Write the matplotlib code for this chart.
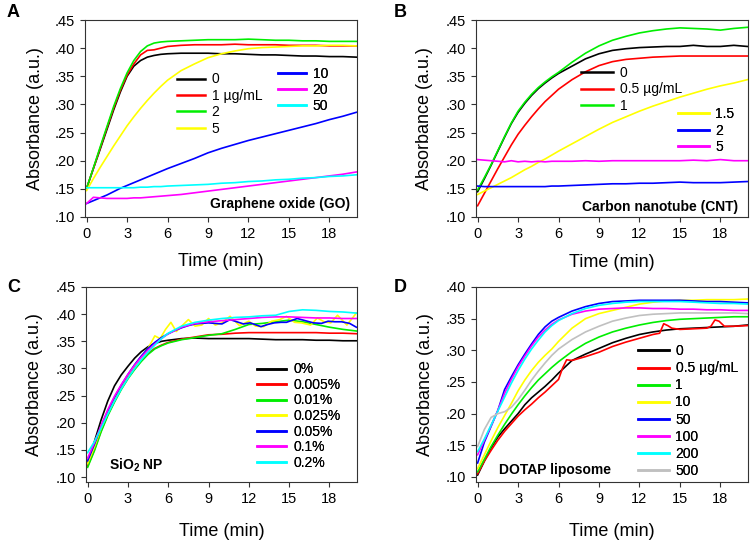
import numpy as np
import matplotlib
matplotlib.use("Agg")
import matplotlib.pyplot as plt
from matplotlib.ticker import FuncFormatter, MultipleLocator

plt.rcParams['font.family'] = ['Liberation Sans', 'DejaVu Sans']
plt.rcParams['mathtext.fontset'] = 'custom'
plt.rcParams['mathtext.rm'] = 'Liberation Sans'
plt.rcParams['mathtext.bf'] = 'Liberation Sans:bold'

# common time grid (min)
t = [0, 0.5, 1, 1.5, 2, 2.5, 3, 3.5, 4, 4.5, 5, 5.5, 6, 7, 8, 9, 10, 11, 12, 13, 14, 15, 16, 17, 18, 19, 20]

# ---- A: graphene oxide ----
go_labels = ["0", "1 \u00b5g/mL", "2", "5", "10", "20", "50"]
go_0 = [.151, .186, .22, .255, .29, .322, .350, .368, .378, .384, .387, .389, .390, .391, .391, .391, .390, .390, .389, .388, .388, .387, .386, .386, .385, .385, .384]
go_1 = [.151, .186, .222, .258, .293, .325, .352, .372, .388, .396, .397, .400, .403, .405, .406, .406, .406, .407, .406, .406, .406, .405, .405, .405, .404, .404, .404]
go_2 = [.151, .187, .224, .26, .296, .328, .356, .378, .394, .404, .409, .411, .412, .413, .414, .415, .415, .415, .416, .415, .414, .414, .413, .413, .412, .412, .412]
go_5 = [.147, .168, .188, .207, .226, .244, .262, .278, .293, .307, .32, .332, .343, .36, .372, .383, .39, .395, .399, .401, .402, .403, .404, .404, .405, .405, .404]
go_10 = [.124, .129, .134, .139, .145, .151, .156, .161, .166, .171, .176, .181, .186, .195, .204, .214, .222, .229, .236, .242, .248, .254, .26, .266, .273, .279, .286]
go_20 = [.124, .135, .134, .133, .133, .133, .133, .134, .134, .135, .136, .137, .138, .14, .143, .146, .149, .152, .155, .158, .161, .164, .167, .17, .173, .176, .18]
go_50 = [.152, .152, .152, .152, .152, .152, .152, .152, .153, .153, .154, .154, .155, .156, .157, .158, .16, .161, .163, .164, .166, .167, .169, .17, .172, .173, .175]

# ---- B: carbon nanotube ----
cnt_labels = ["0", "0.5 \u00b5g/mL", "1", "1.5", "2", "5"]
cnt_0 = [.145, .168, .192, .217, .242, .266, .286, .302, .316, .328, .338, .347, .355, .368, .381, .39, .396, .399, .401, .402, .403, .403, .405, .403, .403, .405, .403]
cnt_05 = [.12, .142, .164, .186, .207, .228, .247, .263, .278, .292, .305, .316, .327, .344, .358, .369, .376, .38, .382, .384, .385, .386, .386, .386, .386, .386, .386]
cnt_1 = [.148, .17, .193, .218, .243, .267, .288, .304, .318, .33, .34, .349, .357, .375, .391, .404, .414, .421, .427, .431, .434, .436, .435, .434, .432, .435, .437]
cnt_15 = [.14, .146, .152, .158, .164, .17, .177, .184, .19, .197, .203, .21, .217, .23, .243, .256, .268, .278, .288, .297, .305, .313, .32, .327, .333, .338, .344]
cnt_2 = [.155, .154, .154, .154, .154, .154, .154, .154, .154, .154, .154, .155, .155, .156, .157, .158, .159, .159, .16, .16, .161, .162, .161, .161, .161, .162, .163]
cnt_5 = [.202, .201, .2, .199, .198, .2, .198, .199, .198, .199, .198, .199, .199, .199, .2, .199, .2, .2, .2, .2, .2, .2, .201, .2, .202, .2, .2]

# ---- C: SiO2 NP ----
sio_labels = ["0%", "0.005%", "0.01%", "0.025%", "0.05%", "0.1%", "0.2%"]
sio_0 = [.125, .165, .205, .24, .268, .288, .304, .319, .331, .34, .346, .35, .352, .355, .356, .355, .355, .355, .355, .354, .353, .353, .353, .352, .352, .351, .351]
sio_005 = [.12, .15, .185, .215, .24, .263, .283, .3, .315, .328, .337, .343, .348, .354, .358, .362, .363, .365, .366, .366, .366, .366, .366, .366, .365, .365, .364]
sio_01 = [.118, .148, .183, .213, .238, .261, .281, .298, .313, .326, .336, .342, .347, .353, .357, .361, .364, .372, .381, .383, .386, .389, .386, .381, .376, .372, .369]
sio_025_t = [0, .5, 1, 1.5, 2, 2.5, 3, 3.5, 4, 4.5, 5, 5.4, 5.8, 6.2, 6.6, 7, 7.5, 8, 8.5, 9, 9.5, 10, 10.6, 11.3, 12, 12.5, 13.1, 13.7, 14.3, 14.8, 15.4, 15.9, 16.6, 17.1, 17.6, 18.1, 18.6, 19.3, 20]
sio_025 = [.125, .155, .19, .22, .245, .267, .287, .305, .322, .337, .36, .355, .372, .385, .368, .378, .39, .378, .38, .392, .38, .384, .396, .379, .387, .378, .377, .387, .39, .396, .385, .384, .38, .393, .386, .384, .398, .38, .402]
sio_05_t = [0, .5, 1, 1.5, 2, 2.5, 3, 3.5, 4, 4.5, 5, 5.5, 6, 6.5, 7, 7.5, 8, 8.5, 9, 9.5, 10, 10.6, 11.1, 11.6, 12.1, 12.9, 13.4, 13.9, 14.4, 14.8, 15.6, 16.2, 16.8, 17.4, 17.9, 18.4, 18.9, 19.5, 20]
sio_05 = [.13, .16, .193, .222, .247, .269, .289, .307, .323, .337, .348, .357, .364, .37, .375, .379, .382, .383, .384, .383, .382, .39, .386, .382, .384, .377, .381, .384, .385, .385, .392, .388, .384, .383, .387, .386, .386, .383, .376]
sio_1 = [.135, .163, .195, .224, .249, .27, .289, .306, .321, .334, .345, .355, .364, .376, .383, .386, .388, .39, .392, .394, .395, .395, .394, .393, .393, .392, .392]
sio_2 = [.145, .165, .19, .216, .24, .262, .282, .3, .316, .33, .343, .355, .365, .378, .385, .389, .392, .394, .395, .397, .398, .405, .408, .407, .405, .404, .402]

# ---- D: DOTAP liposome ----
lip_labels = ["0", "0.5 \u00b5g/mL", "1", "10", "50", "100", "200", "500"]
lip_0 = [.103, .125, .146, .163, .176, .188, .2, .214, .225, .234, .243, .253, .264, .284, .294, .303, .312, .319, .325, .329, .332, .334, .335, .336, .337, .338, .34]
lip_05_t = [0, .5, 1, 1.5, 2, 2.5, 3, 3.5, 4, 4.5, 5, 5.5, 6, 6.3, 6.6, 7, 8, 9, 10, 11, 12, 13, 13.5, 13.8, 14.1, 14.4, 15, 16, 17, 17.3, 17.6, 17.9, 18.3, 19, 20]
lip_05 = [.105, .125, .142, .158, .172, .184, .196, .206, .215, .225, .234, .244, .254, .272, .285, .284, .29, .297, .306, .313, .319, .325, .327, .342, .339, .335, .333, .334, .335, .338, .348, .346, .338, .338, .339]
lip_1 = [.108, .128, .148, .166, .183, .199, .214, .228, .241, .253, .263, .273, .282, .298, .311, .321, .329, .335, .34, .344, .347, .349, .35, .351, .352, .353, .353]
lip_10 = [.113, .135, .157, .178, .197, .216, .236, .253, .268, .281, .292, .302, .314, .335, .35, .358, .363, .368, .373, .376, .378, .379, .379, .38, .38, .38, .381]
lip_50 = [.122, .155, .18, .205, .238, .258, .277, .294, .31, .325, .337, .346, .352, .362, .369, .374, .377, .378, .379, .379, .379, .379, .378, .377, .377, .376, .375]
lip_100 = [.135, .158, .181, .205, .232, .254, .274, .291, .307, .321, .332, .341, .348, .357, .362, .365, .366, .367, .367, .366, .366, .365, .365, .364, .364, .363, .363]
lip_200 = [.14, .16, .182, .204, .226, .248, .268, .286, .302, .316, .329, .339, .347, .358, .366, .371, .374, .376, .377, .377, .377, .377, .376, .375, .374, .374, .373]
lip_500 = [.148, .175, .194, .2, .203, .21, .222, .237, .253, .267, .28, .292, .302, .317, .329, .338, .346, .351, .355, .357, .358, .359, .359, .359, .359, .359, .358]

colors7 = ['black', '#ff0000', '#00ee00', '#ffff00', '#0000ff', '#ff00ff', '#00ffff']
W, H = 753, 541
LW = 1.2

fig = plt.figure(figsize=(W / 100, H / 100), dpi=100)

def make_ax(l, r, top, bot, ylim):
    ax = fig.add_axes([l / W, 1 - bot / H, (r - l) / W, (bot - top) / H])
    ax.set_xlim(-0.12, 20.05)
    ax.set_ylim(*ylim)
    ax.set_xticks([0, 3, 6, 9, 12, 15, 18])
    ax.yaxis.set_major_locator(MultipleLocator(0.05))
    ax.yaxis.set_major_formatter(FuncFormatter(lambda v, p: f"{v:.2f}".lstrip('0')))
    ax.tick_params(labelsize=10.5, length=3.5, width=0.8, color='#333333', pad=4)
    for s in ax.spines.values():
        s.set_color('#333333')
        s.set_linewidth(0.8)
    ax.set_xlabel("Time (min)", fontsize=13)
    ax.set_ylabel("Absorbance (a.u.)", fontsize=13)
    return ax

def add_legend(ax, lines, labels, x_px, y_first, y_last, hl, spacing):
    leg = ax.legend(lines, labels, loc='center left', frameon=False, fontsize=10,
                    bbox_to_anchor=(x_px / W, 1 - (y_first + y_last) / 2 / H),
                    bbox_transform=fig.transFigure, borderpad=0, borderaxespad=0,
                    handlelength=hl, handletextpad=0.5, labelspacing=spacing)
    for h in leg.get_lines():
        h.set_linewidth(1.8)
    ax.add_artist(leg)
    return leg

# panel A
axA = make_ax(85, 357, 20, 217, (0.10, 0.45))
tA_series = [go_0, go_1, go_2, go_5, go_10, go_20, go_50]
linesA = [axA.plot(t, s, color=c, lw=LW)[0] for s, c in zip(tA_series, colors7)]
add_legend(axA, linesA[:4], go_labels[:4], 177, 79, 129, 2.0, 0.17)
add_legend(axA, linesA[4:], go_labels[4:], 278, 73, 107, 2.0, 0.17)
axA.text(0.974, 0.066, "Graphene oxide (GO)", transform=axA.transAxes, ha='right', va='center',
         fontsize=10, fontweight='bold')
axA.xaxis.set_label_coords(0.5, -0.183)
axA.yaxis.set_label_coords(-0.151, 0.5)

# panel B
axB = make_ax(476, 748, 20, 217, (0.10, 0.45))
tB_series = [cnt_0, cnt_05, cnt_1, cnt_15, cnt_2, cnt_5]
colorsB = ['black', '#ff0000', '#00ee00', '#ffff00', '#0000ff', '#ff00ff']
linesB = [axB.plot(t, s, color=c, lw=LW)[0] for s, c in zip(tB_series, colorsB)]
add_legend(axB, linesB[:3], cnt_labels[:3], 581, 72, 107, 2.3, 0.2)
add_legend(axB, linesB[3:], cnt_labels[3:], 678, 113, 148, 2.2, 0.2)
axB.text(0.962, 0.051, "Carbon nanotube (CNT)", transform=axB.transAxes, ha='right', va='center',
         fontsize=10, fontweight='bold')
axB.xaxis.set_label_coords(0.5, -0.188)
axB.yaxis.set_label_coords(-0.158, 0.5)

# panel C
axC = make_ax(86, 357, 287, 482, (0.091, 0.45))
linesC = []
for tt, s, c in zip([t, t, t, sio_025_t, sio_05_t, t, t],
                    [sio_0, sio_005, sio_01, sio_025, sio_05, sio_1, sio_2], colors7):
    linesC.append(axC.plot(tt, s, color=c, lw=LW)[0])
add_legend(axC, linesC, sio_labels, 257, 369, 463, 2.1, 0.11)
axC.text(0.084, 0.087, "SiO$_\\mathbf{2}$ NP", transform=axC.transAxes, ha='left', va='center',
         fontsize=10, fontweight='bold')
axC.xaxis.set_label_coords(0.5, -0.209)
axC.yaxis.set_label_coords(-0.159, 0.5)

# panel D
axD = make_ax(476, 748, 287, 482, (0.092, 0.40))
colorsD = ['black', '#ff0000', '#00ee00', '#ffff00', '#0000ff', '#ff00ff', '#00ffff', '#c0c0c0']
linesD = []
for tt, s, c in zip([t, lip_05_t, t, t, t, t, t, t],
                    [lip_0, lip_05, lip_1, lip_10, lip_50, lip_100, lip_200, lip_500], colorsD):
    linesD.append(axD.plot(tt, s, color=c, lw=LW)[0])
add_legend(axD, linesD, lip_labels, 638, 350, 472, 2.2, 0.22)
axD.text(0.085, 0.062, "DOTAP liposome", transform=axD.transAxes, ha='left', va='center',
         fontsize=10, fontweight='bold')
axD.xaxis.set_label_coords(0.5, -0.209)
axD.yaxis.set_label_coords(-0.154, 0.5)

# panel letters
for lab, x, y in [("A", 7, 12.5), ("B", 394, 12.5), ("C", 7, 288), ("D", 394, 288)]:
    fig.text(x / W, 1 - y / H, lab, fontsize=13, fontweight='bold', ha='left', va='center')

fig.savefig("out.png", dpi=100)
